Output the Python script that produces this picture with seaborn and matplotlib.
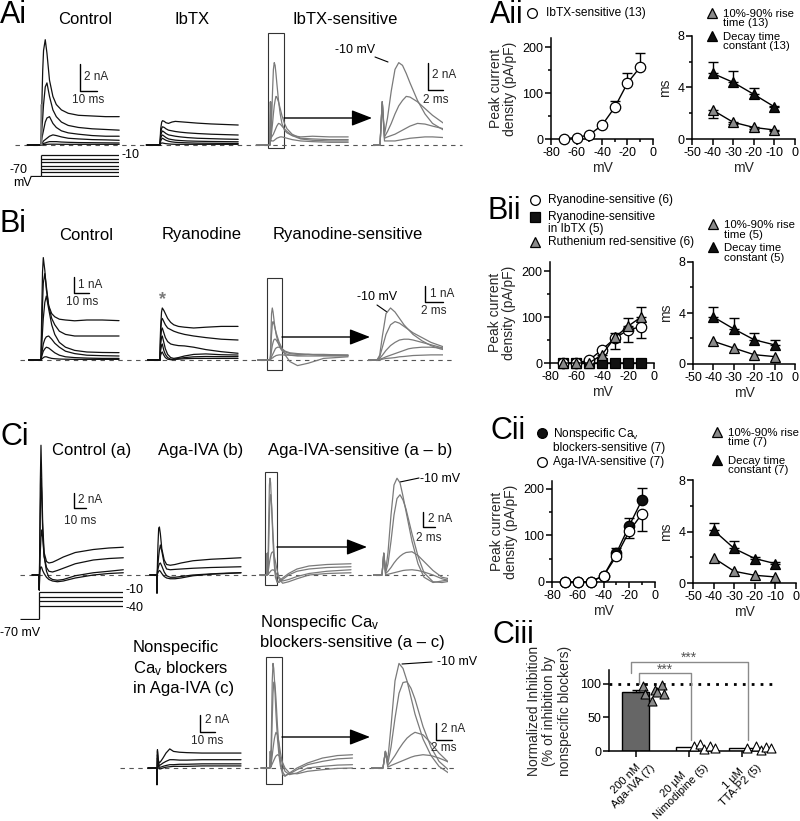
import numpy as np
import matplotlib
matplotlib.use("Agg")
import matplotlib.pyplot as plt
import matplotlib.transforms as mtrans
import seaborn as sns
from matplotlib.patches import Rectangle

sns.set_theme(style="ticks")
plt.rcParams["font.family"] = ["Liberation Sans", "DejaVu Sans"]
plt.rcParams["mathtext.default"] = "regular"
plt.rcParams["axes.unicode_minus"] = False

# ---------------- I-V / kinetics data ----------------
MV = [-70, -60, -50, -40, -30, -20, -10]
MV_KIN = [-40, -30, -20, -10]

IBTX_IV = [1, 3, 9, 30, 69, 122, 157]
IBTX_IV_SEM = [0, 0, 2, 4, 14, 22, 31]
IBTX_RISE = [2.25, 1.3, 0.9, 0.7]
IBTX_RISE_SEM = [0.65, 0.15, 0.1, 0.1]
IBTX_DECAY = [5.1, 4.4, 3.47, 2.5]
IBTX_DECAY_SEM = [0.86, 0.86, 0.5, 0.1]

RYA_IV = [0, 0, 6, 29, 54, 72, 79]
RYA_IV_SEM = [0, 0, 2, 4, 23, 27, 25]
RYA_IBTX_IV = [0, 0, 0, 0, 0, 0, 0]
RR_IV = [0, 0, 0, 18, 56, 80, 100]
RR_IV_SEM = [0, 0, 0, 3, 10, 19, 22]
RYA_RISE = [1.78, 1.25, 0.73, 0.58]
RYA_DECAY = [3.69, 2.75, 1.9, 1.5]
RYA_DECAY_SEM = [0.75, 0.85, 0.5, 0.4]

NS_IV = [0, 0, 1, 13, 62, 121, 177]
NS_IV_SEM = [0, 0, 0, 2, 11, 17, 26]
AGA_IV = [0, 0, 1, 13, 56, 109, 147]
AGA_IV_SEM = [0, 0, 0, 2, 6, 15, 38]
AGA_RISE = [1.95, 0.91, 0.6, 0.47]
AGA_DECAY = [4.1, 2.68, 1.9, 1.5]
AGA_DECAY_SEM = [0.58, 0.57, 0.15, 0.1]

CIII_LABELS = ["200 nM\nAga-IVA (7)", "20 µM\nNimodipine (5)", "1 µM\nTTA-P2 (5)"]
CIII_MEAN = [88, 5.5, 4.5]
CIII_SEM = [3, 0.5, 0.5]
CIII_AGA_PTS = [97, 85, 74, 90, 87, 98, 84]
CIII_NIM_PTS = [7, 10, 3, 8, 4]
CIII_TTA_PTS = [5, 7, 1, 6, 5]

# ---------------- current traces (ms, nA) ----------------
T_A = [-8, 0, 0.4, 1, 1.5, 2.5, 3.5, 5, 7, 9, 12, 16, 22, 30, 38, 46]
A_CTRL = [
    [0, 0, 2.5, 5.5, 7.0, 7.8, 6.8, 4.8, 3.6, 3.0, 2.6, 2.35, 2.2, 2.15, 2.1, 2.1],
    [0, 0, 1.0, 2.0, 3.0, 4.3, 4.6, 3.6, 2.6, 2.1, 1.7, 1.45, 1.3, 1.2, 1.15, 1.1],
    [0, 0, 0.4, 0.8, 1.1, 1.7, 2.0, 2.1, 1.6, 1.3, 1.05, 0.9, 0.8, 0.7, 0.65, 0.65],
    [0, 0, 0.1, 0.2, 0.3, 0.4, 0.5, 0.65, 0.75, 0.7, 0.6, 0.5, 0.45, 0.4, 0.38, 0.35],
    [0, 0, 0.05, 0.1, 0.12, 0.15, 0.2, 0.25, 0.25, 0.25, 0.22, 0.2, 0.18, 0.17, 0.16, 0.15],
    [0, 0, 0, 0.02, 0.03, 0.05, 0.05, 0.06, 0.06, 0.06, 0.05, 0.05, 0.05, 0.05, 0.05, 0.05],
]
A_IBTX = [
    [0, 0, 1.2, 1.7, 1.8, 1.75, 1.65, 1.6, 1.7, 1.75, 1.72, 1.68, 1.62, 1.56, 1.52, 1.48],
    [0, 0, 0.9, 1.25, 1.35, 1.3, 1.2, 1.1, 1.05, 1.0, 0.95, 0.9, 0.85, 0.8, 0.77, 0.74],
    [0, 0, 0.7, 0.95, 1.04, 0.95, 0.85, 0.75, 0.7, 0.65, 0.6, 0.55, 0.5, 0.47, 0.44, 0.42],
    [0, 0, 0.5, 0.7, 0.74, 0.65, 0.55, 0.45, 0.4, 0.36, 0.33, 0.3, 0.28, 0.26, 0.25, 0.24],
    [0, 0, 0.3, 0.45, 0.5, 0.42, 0.35, 0.28, 0.23, 0.2, 0.18, 0.16, 0.14, 0.13, 0.12, 0.12],
    [0, 0, 0.1, 0.15, 0.15, 0.12, 0.1, 0.08, 0.06, 0.05, 0.05, 0.05, 0.05, 0.05, 0.05, 0.05],
]
ART_T = [-0.1, 0.2, 0.5]
A_ART = [0, 3.0, 0]

T_SA = [-8, 0, 0.3, 0.6, 1, 1.5, 2, 2.5, 3, 3.5, 4, 5, 6, 7, 8.5, 10, 13, 18, 25, 35, 46]
A_SENS = [
    [0, 0, 3.2, 0.8, 2.0, 4.0, 5.6, 6.1, 5.9, 5.3, 4.6, 3.3, 2.3, 1.6, 1.1, 0.9, 0.7, 0.6, 0.65, 0.6, 0.6],
    [0, 0, 3.2, 0.6, 1.0, 1.6, 2.3, 2.9, 3.3, 3.6, 3.55, 3.2, 2.7, 2.2, 1.6, 1.2, 0.8, 0.5, 0.45, 0.4, 0.4],
    [0, 0, 3.2, 0.5, 0.6, 0.7, 0.8, 0.95, 1.1, 1.25, 1.4, 1.6, 1.55, 1.4, 1.2, 1.0, 0.7, 0.45, 0.35, 0.3, 0.3],
    [0, 0, 3.2, 0.3, 0.3, 0.3, 0.3, 0.35, 0.4, 0.45, 0.5, 0.55, 0.6, 0.6, 0.55, 0.5, 0.4, 0.3, 0.25, 0.2, 0.2],
]

T_B = [-8, 0, 0.4, 1, 1.5, 2.5, 3.5, 5, 7, 9, 12, 16, 22, 30, 40, 51]
B_CTRL = [
    [0, 0, 2.5, 5.5, 6.4, 5.6, 4.4, 3.4, 2.9, 2.7, 2.55, 2.5, 2.45, 2.5, 2.5, 2.46],
    [0, 0, 1.5, 3.5, 4.8, 5.4, 4.6, 3.4, 2.6, 2.2, 1.8, 1.6, 1.5, 1.5, 1.5, 1.5],
    [0, 0, 0.8, 1.8, 2.6, 3.6, 4.0, 3.2, 2.2, 1.6, 1.1, 0.8, 0.6, 0.5, 0.47, 0.46],
    [0, 0, 0.3, 0.7, 1.0, 1.3, 1.45, 1.5, 1.3, 1.05, 0.8, 0.55, 0.4, 0.3, 0.27, 0.25],
    [0, 0, 0.2, 0.4, 0.55, 0.7, 0.8, 0.75, 0.6, 0.45, 0.3, 0.2, 0.15, 0.12, 0.1, 0.1],
    [0, 0, 0.05, 0.1, 0.15, 0.2, 0.2, 0.15, 0.1, 0.08, 0.06, 0.05, 0.04, 0.04, 0.04, 0.04],
]
B_RYAN = [
    [0, 0, 2.0, 3.0, 3.25, 3.1, 2.9, 2.6, 2.35, 2.2, 2.1, 2.05, 2.0, 2.05, 2.1, 2.1],
    [0, 0, 1.8, 2.5, 2.6, 2.4, 2.2, 2.0, 1.9, 1.8, 1.7, 1.6, 1.5, 1.4, 1.3, 1.25],
    [0, 0, 1.4, 1.9, 2.0, 1.7, 1.4, 1.15, 1.0, 0.95, 0.9, 0.88, 0.8, 0.65, 0.52, 0.42],
    [0, 0, 1.0, 1.4, 1.5, 1.1, 0.7, 0.35, 0.15, 0.1, 0.15, 0.25, 0.35, 0.38, 0.33, 0.31],
    [0, 0, 0.6, 0.9, 1.0, 0.6, 0.35, 0.15, 0.05, 0.05, 0.1, 0.15, 0.2, 0.22, 0.21, 0.21],
    [0, 0, 0.3, 0.45, 0.5, 0.3, 0.15, 0.05, 0.02, 0.03, 0.05, 0.08, 0.1, 0.1, 0.1, 0.1],
]
T_SB = [-8, 0, 0.3, 0.6, 1, 1.5, 2, 2.5, 3, 3.5, 4, 5, 6, 7, 8.5, 10, 13, 18, 25, 35, 51]
B_SENS = [
    [0, 0, 0.3, 1.5, 2.9, 3.25, 3.0, 2.6, 2.2, 1.9, 1.6, 1.2, 0.9, 0.7, 0.5, 0.4, 0.3, 0.3, 0.35, 0.3, 0.3],
    [0, 0, 0.2, 0.8, 1.6, 2.2, 2.4, 2.3, 2.1, 1.9, 1.7, 1.4, 1.1, 0.9, 0.6, 0.3, -0.1, -0.35, -0.2, 0.1, 0.2],
    [0, 0, 0.1, 0.3, 0.6, 0.9, 1.1, 1.25, 1.3, 1.3, 1.25, 1.1, 0.95, 0.8, 0.6, 0.5, 0.4, 0.35, 0.35, 0.35, 0.3],
    [0, 0, 0.05, 0.1, 0.2, 0.3, 0.4, 0.5, 0.6, 0.7, 0.75, 0.8, 0.8, 0.75, 0.65, 0.55, 0.45, 0.4, 0.35, 0.3, 0.3],
    [0, 0, 0, 0.05, 0.1, 0.12, 0.15, 0.2, 0.22, 0.25, 0.28, 0.3, 0.32, 0.32, 0.32, 0.3, 0.3, 0.25, 0.25, 0.25, 0.25],
]

T_C = [-6, -0.2, 0, 0.3, 0.8, 1.4, 2, 2.8, 4, 6, 8, 11, 15, 20, 30, 45, 58, 70]
C_CTRL = [
    [0, 0, -2.0, 3, 12, 17.3, 13, 7, 3, 1.8, 1.6, 1.7, 2.0, 2.4, 3.0, 3.4, 3.6, 3.7],
    [0, 0, -2.0, 2, 8, 12.9, 11, 6, 2.5, 1.0, 0.5, 0.4, 0.6, 0.9, 1.5, 2.0, 2.2, 2.3],
    [0, 0, -2.0, 1, 3, 5, 6, 5, 2.5, 0.5, -0.3, -0.6, -0.7, -0.6, -0.1, 0.3, 0.5, 0.7],
    [0, 0, -2.0, 0.3, 0.8, 1.1, 1.0, 0.6, 0.2, -0.3, -0.6, -0.8, -0.9, -0.8, -0.4, 0, 0.2, 0.3],
]
C_AGA = [
    [0, 0, -2.4, 1, 4, 6.2, 6.4, 5.5, 3.5, 2.0, 1.4, 1.3, 1.4, 1.6, 1.9, 2.1, 2.2, 2.3],
    [0, 0, -2.4, 0.5, 1.5, 2.5, 3.3, 4.0, 3.2, 1.5, 0.8, 0.7, 0.75, 0.8, 0.9, 1.0, 1.05, 1.1],
    [0, 0, -2.4, 0.3, 0.8, 1.2, 1.5, 1.6, 1.2, 0.4, -0.1, -0.3, -0.3, -0.2, 0, 0.15, 0.25, 0.3],
    [0, 0, -2.4, 0.1, 0.3, 0.5, 0.6, 0.5, 0.2, -0.2, -0.4, -0.5, -0.5, -0.4, -0.1, 0.1, 0.2, 0.3],
]
T_SC = [-6, 0, 0.3, 0.6, 1, 1.5, 2, 2.5, 3, 3.5, 4, 5, 6, 7, 8.5, 10, 13, 18, 25, 35, 50, 70]
C_SENS = [
    [0, 0, 2.9, 0.5, 3, 8, 12, 12.9, 12.3, 10.5, 8.5, 4.5, 1.5, -0.3, -1.0, -0.8, -0.4, 0.2, 0.8, 1.2, 1.4, 1.5],
    [0, 0, 2.9, 0.3, 1.5, 4.5, 8, 10.2, 10.7, 10, 8.8, 5.5, 2.5, 0.3, -0.9, -1.0, -0.6, 0, 0.5, 0.8, 1.0, 1.1],
    [0, 0, 2.9, 0.2, 0.5, 1.0, 1.6, 2.1, 2.5, 2.8, 3.0, 3.1, 2.6, 1.8, 0.6, -0.3, -0.8, -0.6, -0.2, 0.2, 0.5, 0.7],
    [0, 0, 2.9, 0, 0.1, 0.2, 0.3, 0.4, 0.5, 0.6, 0.65, 0.7, 0.6, 0.4, 0, -0.5, -1.1, -0.9, -0.5, 0, 0.2, 0.3],
]

T_D = [-6, -0.2, 0, 0.3, 0.8, 1.5, 2.5, 4, 6, 8.5, 11, 15, 20, 30, 45, 56]
D_NS = [
    [0, 0, -2, 2.2, 1.0, 0.6, 0.8, 1.2, 1.8, 2.3, 2.0, 1.9, 1.85, 1.8, 1.8, 1.8],
    [0, 0, -2, 2.0, 0.8, 0.3, 0.4, 0.6, 0.8, 1.0, 1.0, 0.95, 0.95, 1.0, 1.0, 1.0],
    [0, 0, -2, 1.6, 0.5, 0.1, 0.1, 0.2, 0.3, 0.4, 0.4, 0.45, 0.45, 0.5, 0.5, 0.5],
    [0, 0, -2, 1.2, 0.3, -0.1, -0.1, 0, 0.1, 0.15, 0.2, 0.2, 0.2, 0.25, 0.25, 0.25],
]
T_SD = [-6, 0, 0.3, 0.6, 1, 1.5, 2, 2.5, 3, 3.5, 4, 5, 6, 7, 8.5, 10, 13, 18, 25, 35, 45, 55]
D_SENS = [
    [0, 0, 2, 1, 5, 10.5, 12.6, 12, 10.5, 8.5, 6.5, 3.5, 1.5, 0.2, -0.8, -1.0, -0.6, 0, 0.6, 1.2, 1.5, 1.6],
    [0, 0, 2, 0.5, 2.5, 6, 9.0, 10.3, 10.4, 9.6, 8.3, 5, 2.5, 0.8, -0.5, -0.9, -0.7, -0.2, 0.4, 0.8, 1.1, 1.2],
    [0, 0, 2, 0.3, 0.8, 1.5, 2.3, 3.0, 3.6, 4.0, 4.3, 4.0, 3.0, 1.8, 0.4, -0.4, -0.8, -0.6, 0, 0.2, 0.35, 0.4],
    [0, 0, 2, 0.1, 0.3, 0.5, 0.7, 0.9, 1.1, 1.3, 1.45, 1.6, 1.5, 1.2, 0.6, 0, -0.6, -0.7, -0.4, -0.2, -0.05, 0],
]

STEPS_A = [-70, -60, -50, -40, -30, -20, -10]
STEPS_C = [-40, -30, -20, -10]
HOLD = -70

# ---------------- figure helpers ----------------
W, H = 800, 821
fig = plt.figure(figsize=(W / 100, H / 100), dpi=100)
fig.patch.set_facecolor("white")

ov = fig.add_axes([0, 0, 1, 1], zorder=0)
ov.set_xlim(0, W)
ov.set_ylim(H, 0)
ov.axis("off")

BLACK = "#111111"
GRAY = "#7a7a7a"
TRI_GRAY = "#8a8a8a"


def px_axes(x0, y0, x1, y1, z=2):
    return fig.add_axes([x0 / W, 1 - y1 / H, (x1 - x0) / W, (y1 - y0) / H], zorder=z)


def txt(x, y, s, size=9, ha="left", va="center", **kw):
    ov.text(x, y, s, fontsize=size, ha=ha, va=va, color=kw.pop("color", "black"), **kw)


def trace_panel(xo, yb, msp, nap, t, traces, color, t0=None, t1=None, clip=False):
    t0 = t[0] if t0 is None else t0
    t1 = t[-1] if t1 is None else t1
    lo = min(min(tr) for tr in traces) - 0.5
    hi = max(max(tr) for tr in traces) + 0.5
    ax = px_axes(xo + t0 * msp, yb - hi * nap, xo + t1 * msp, yb - lo * nap)
    for tr in traces:
        sns.lineplot(x=t, y=tr, ax=ax, color=color, lw=0.9, estimator=None,
                     sort=False, clip_on=clip)
    ax.set_xlim(t0, t1)
    ax.set_ylim(lo, hi)
    ax.axis("off")
    return ax


def scalebar(ax, t, y, dt, dy, vlab, hlab, vdx, vy, hy, size=8.5):
    ax.plot([t, t, t + dt], [y + dy, y, y], color="black", lw=1, clip_on=False)
    ax.text(t + vdx, vy, vlab, fontsize=size, ha="left", va="center", clip_on=False)
    ax.text(t + dt / 2, hy, hlab, fontsize=size, ha="center", va="center", clip_on=False)


def protocol(xo, msp, t0, t1, y_m10, pxmv, steps):
    ax = px_axes(xo + t0 * msp, y_m10 - 2 * pxmv, xo + t1 * msp, y_m10 + 62 * pxmv)
    ax.set_xlim(t0, t1)
    ax.set_ylim(-72, -8)
    ax.hlines(HOLD, t0, 0, color=BLACK, lw=0.9)
    ax.vlines(0, HOLD, max(steps), color=BLACK, lw=0.9)
    ax.hlines(steps, 0, t1, color=BLACK, lw=0.9)
    ax.axis("off")
    return ax


def dashed(x0, x1, y):
    ov.plot([x0, x1], [y, y], ls=(0, (4, 4)), color="#555555", lw=0.8)


def arrow(x0, x1, y):
    ov.annotate("", xy=(x1, y), xytext=(x0, y),
                arrowprops=dict(arrowstyle="-|>,head_length=0.9,head_width=0.35",
                                color="black", lw=1, mutation_scale=14,
                                shrinkA=0, shrinkB=0))


def box(x, y, w, h):
    ov.add_patch(Rectangle((x, y), w, h, fill=False, ec="#333333", lw=0.8))


# ---------------- Row A: traces ----------------
dashed(15, 462, 145)
ax = trace_panel(41, 145, 1.7, 13.5, T_A, A_CTRL, BLACK)
sns.lineplot(x=ART_T, y=A_ART, ax=ax, color=GRAY, lw=0.9, estimator=None, sort=False)
scalebar(ax, 23, 4.0, 10, 2, "2 nA", "10 ms", 2.2, 5.0, 3.3)
trace_panel(160, 145, 1.7, 13.5, T_A, A_IBTX, BLACK)
trace_panel(270, 145, 1.7, 13.5, T_SA, A_SENS, GRAY)
ax = trace_panel(380, 145, 7.5, 13.5, T_SA, A_SENS, GRAY, t0=-1, t1=8.4, clip=True)
scalebar(ax, 6.4, 4.07, 2, 2, "2 nA", "2 ms", 0.5, 5.2, 3.3)
protocol(41, 1.7, -6.5, 46, 155, 0.35, STEPS_A)
box(268, 33, 16, 115)
arrow(284, 372, 118)
txt(122, 155, "-10", 9)
txt(10, 170, "-70", 9)
txt(13, 183, "mV", 9)
txt(335, 50, "-10 mV", 9)
ov.plot([375, 388], [57, 62], color="black", lw=0.8)

# ---------------- Row B: traces ----------------
dashed(20, 455, 360)
ax = trace_panel(41, 360, 1.53, 16, T_B, B_CTRL, BLACK)
scalebar(ax, 21.6, 4.19, 10, 1, "1 nA", "10 ms", 2.6, 4.69, 3.6)
ax = trace_panel(160, 360, 1.53, 16, T_B, B_RYAN, BLACK)
ax.text(1.8, 3.75, "*", fontsize=13, ha="center", va="center", color=GRAY, fontweight="bold")
trace_panel(270, 360, 1.53, 16, T_SB, B_SENS, GRAY)
ax = trace_panel(377, 360, 9, 16, T_SB, B_SENS, GRAY, t0=-1, t1=7.3, clip=True)
scalebar(ax, 5.33, 3.6, 2, 1, "1 nA", "2 ms", 0.55, 4.15, 3.05)
box(267, 278, 15, 92)
arrow(282, 370, 337)
txt(357, 297, "-10 mV", 9)
ov.plot([377, 387], [305, 312], color="black", lw=0.8)

# ---------------- Row C: traces ----------------
dashed(20, 448, 575)
ax = trace_panel(39.3, 575, 1.2, 7.5, T_C, C_CTRL, BLACK)
scalebar(ax, 28.9, 8.93, 10, 2, "2 nA", "10 ms", 3.3, 10.0, 7.2)
trace_panel(157, 575, 1.2, 7.5, T_C, C_AGA, BLACK)
trace_panel(267, 575, 1.2, 7.5, T_SC, C_SENS, GRAY)
ax = trace_panel(382, 575, 6, 7.5, T_SC, C_SENS, GRAY, t0=-1.5, t1=11, clip=True)
scalebar(ax, 6.83, 6.4, 2, 2, "2 nA", "2 ms", 0.8, 7.47, 4.93)
protocol(39.3, 1.2, -16, 70, 592, 0.45, STEPS_C)
box(265, 472, 12, 113)
arrow(277, 367, 547)
txt(126, 590, "-10", 9)
txt(126, 608, "-40", 9)
txt(0, 633, "-70 mV", 9)
txt(420, 479, "-10 mV", 9)
ov.plot([400, 419], [482, 478], color="black", lw=0.8)

# ---------------- Row D: traces ----------------
dashed(120, 457, 768)
ax = trace_panel(157, 768, 1.5, 8.3, T_D, D_NS, BLACK)
scalebar(ax, 28.7, 4.34, 10, 2, "2 nA", "10 ms", 3.3, 5.78, 3.25)
trace_panel(270, 768, 1.5, 8.3, T_SD, D_SENS, GRAY)
ax = trace_panel(383, 768, 8, 8.3, T_SD, D_SENS, GRAY, t0=-1.5, t1=8.1, clip=True)
scalebar(ax, 6.6, 3.37, 2, 2, "2 nA", "2 ms", 0.6, 4.7, 2.41)
box(266, 657, 16, 127)
arrow(282, 370, 737)
txt(437, 662, "-10 mV", 9)
ov.plot([402, 432], [664, 662], color="black", lw=0.8)

# ---------------- titles and panel letters ----------------
txt(0, 0, "Ai", 22, va="top")
txt(85, 20, "Control", 12, ha="center")
txt(192, 20, "IbTX", 12, ha="center")
txt(292, 20, "IbTX-sensitive", 12)
txt(0, 224, "Bi", 22)
txt(86, 235, "Control", 12, ha="center")
txt(202, 235, "Ryanodine", 12, ha="center")
txt(273, 235, "Ryanodine-sensitive", 12)
txt(0, 437, "Ci", 22)
txt(52, 450, "Control (a)", 12)
txt(158, 450, "Aga-IVA (b)", 12)
txt(268, 450, "Aga-IVA-sensitive (a \u2013 b)", 12)
txt(260, 632, "Nonspecific Ca$_v$\nblockers-sensitive (a \u2013 c)", 12, linespacing=1.25)
txt(133, 668, "Nonspecific\nCa$_v$ blockers\nin Aga-IVA (c)", 12, linespacing=1.3)
txt(490, 0, "Aii", 22, va="top")
txt(488, 211, "Bii", 22)
txt(490, 431, "Cii", 22)
txt(493, 635, "Ciii", 22)


# ---------------- I-V and kinetics panels ----------------
def legend_marker(x, y, marker, face, ms=7):
    ov.plot([x], [y], marker=marker, ms=ms, mfc=face, mec="black", mew=0.9, ls="none")


def iv_line(ax, x, y, marker, face, ms=7.5):
    sns.lineplot(x=x, y=y, ax=ax, color="black", lw=1, marker=marker, markersize=ms,
                 markerfacecolor=face, markeredgecolor="black", markeredgewidth=0.9,
                 clip_on=False, zorder=3, estimator=None)


def err(ax, x, y, sem, up=True):
    zero = [0] * len(sem)
    yerr = [zero, sem] if up else [sem, zero]
    ax.errorbar(x, y, yerr=yerr, fmt="none", ecolor="black", elinewidth=1,
                capsize=3.5, capthick=1, zorder=2)


def style_iv(ax, left_panel):
    if left_panel:
        ax.set_xlim(-80, 0)
        ax.set_xticks([-80, -60, -40, -20, 0])
        ax.set_xticks([-70, -50, -30, -10], minor=True)
        ax.set_yticks([0, 100, 200])
        ax.set_yticks([50, 150], minor=True)
        ax.set_ylabel("Peak current\ndensity (pA/pF)", fontsize=10, labelpad=4,
                      linespacing=1.0)
    else:
        ax.set_xlim(-50, 0)
        ax.set_xticks([-50, -40, -30, -20, -10, 0])
        ax.set_yticks([0, 4, 8])
        ax.set_yticks([2, 6], minor=True)
        ax.set_ylabel("ms", fontsize=10, labelpad=4)
    ax.set_xlabel("mV", fontsize=10, labelpad=2)
    sns.despine(ax=ax)
    ax.set_facecolor("none")
    ax.grid(False)
    for s in ("left", "bottom"):
        ax.spines[s].set_linewidth(1.1)
        ax.spines[s].set_color("black")
    ax.tick_params(which="major", direction="out", length=4, width=1.1, labelsize=9,
                   pad=1.5, colors="black")
    ax.tick_params(which="minor", direction="out", length=2.5, width=1.1, colors="black")


LEG = 8.6
LEG_R = 8.2

# Aii
ax = px_axes(551, 38, 653, 139, z=3)
err(ax, MV, IBTX_IV, IBTX_IV_SEM)
iv_line(ax, MV, IBTX_IV, "o", "white")
style_iv(ax, True)
ax.set_ylim(0, 220)

ax = px_axes(692, 36, 795, 139, z=3)
err(ax, MV_KIN, IBTX_RISE, IBTX_RISE_SEM, up=False)
err(ax, MV_KIN, IBTX_DECAY, IBTX_DECAY_SEM)
iv_line(ax, MV_KIN, IBTX_RISE, "^", TRI_GRAY)
iv_line(ax, MV_KIN, IBTX_DECAY, "^", BLACK)
style_iv(ax, False)
ax.set_ylim(0, 8)

legend_marker(532, 13, "o", "white")
txt(546, 13, "IbTX-sensitive (13)", LEG)
legend_marker(712, 13, "^", TRI_GRAY)
txt(723, 18.5, "10%-90% rise\ntime (13)", LEG_R, linespacing=0.95)
legend_marker(712, 36, "^", BLACK)
txt(723, 41.5, "Decay time\nconstant (13)", LEG_R, linespacing=0.95)

# Bii
ax = px_axes(550, 262, 654, 363, z=3)
err(ax, MV, RYA_IV, RYA_IV_SEM, up=False)
err(ax, MV, RR_IV, RR_IV_SEM)
iv_line(ax, MV, RYA_IBTX_IV, "s", BLACK, ms=7)
iv_line(ax, MV, RYA_IV, "o", "white")
iv_line(ax, MV, RR_IV, "^", TRI_GRAY)
style_iv(ax, True)
ax.set_ylim(0, 220)

ax = px_axes(693, 262, 795, 364, z=3)
err(ax, MV_KIN, RYA_DECAY, RYA_DECAY_SEM)
iv_line(ax, MV_KIN, RYA_RISE, "^", TRI_GRAY)
iv_line(ax, MV_KIN, RYA_DECAY, "^", BLACK)
style_iv(ax, False)
ax.set_ylim(0, 8)

legend_marker(535, 200, "o", "white")
txt(548, 200, "Ryanodine-sensitive (6)", LEG)
legend_marker(535, 217, "s", BLACK)
txt(548, 223, "Ryanodine-sensitive\nin IbTX (5)", LEG, linespacing=0.95)
legend_marker(535, 242, "^", TRI_GRAY)
txt(548, 242, "Ruthenium red-sensitive (6)", LEG)
legend_marker(713, 224, "^", TRI_GRAY)
txt(724, 230, "10%-90% rise\ntime (5)", LEG_R, linespacing=0.95)
legend_marker(713, 247, "^", BLACK)
txt(724, 253, "Decay time\nconstant (5)", LEG_R, linespacing=0.95)

# Cii
ax = px_axes(552, 481, 655, 582, z=3)
err(ax, MV, NS_IV, NS_IV_SEM)
err(ax, MV, AGA_IV, AGA_IV_SEM, up=False)
iv_line(ax, MV, NS_IV, "o", BLACK)
iv_line(ax, MV, AGA_IV, "o", "white")
style_iv(ax, True)
ax.set_ylim(0, 217)

ax = px_axes(693, 480, 796, 583, z=3)
err(ax, MV_KIN, AGA_DECAY, AGA_DECAY_SEM)
iv_line(ax, MV_KIN, AGA_RISE, "^", TRI_GRAY)
iv_line(ax, MV_KIN, AGA_DECAY, "^", BLACK)
style_iv(ax, False)
ax.set_ylim(0, 8)

legend_marker(542, 433, "o", BLACK)
txt(553, 440, "Nonspecific Ca$_v$\nblockers-sensitive (7)", LEG, linespacing=1.0)
legend_marker(542, 462, "o", "white")
txt(553, 462, "Aga-IVA-sensitive (7)", LEG)
legend_marker(717, 432, "^", TRI_GRAY)
txt(728, 437.5, "10%-90% rise\ntime (7)", LEG_R, linespacing=0.95)
legend_marker(717, 460, "^", BLACK)
txt(728, 465.5, "Decay time\nconstant (7)", LEG_R, linespacing=0.95)

# ---------------- Ciii bar chart ----------------
ax = px_axes(609, 670, 773, 751, z=3)
sns.barplot(x=CIII_LABELS, y=CIII_MEAN, hue=CIII_LABELS, legend=False,
            palette=["#666666", "white", "white"], width=0.5, edgecolor="black",
            linewidth=1, errorbar=None, ax=ax)
ax.errorbar([0], [CIII_MEAN[0]], yerr=[[0], [CIII_SEM[0]]], fmt="none", ecolor="black",
            elinewidth=1, capsize=3, capthick=1, zorder=2)
aga_off = [0.13, 0.18, 0.31, 0.37, 0.41, 0.5, 0.53]
nim_off = [0.1, 0.2, 0.28, 0.4, 0.5]
tta_off = [0.1, 0.26, 0.36, 0.45, 0.54]
ax.scatter([0 + o for o in aga_off], CIII_AGA_PTS, marker="^", s=42, c=TRI_GRAY,
           edgecolors="black", linewidths=0.8, zorder=4, clip_on=False)
ax.scatter([1 + o for o in nim_off], CIII_NIM_PTS, marker="^", s=42, c="white",
           edgecolors="black", linewidths=0.8, zorder=4, clip_on=False)
ax.scatter([2 + o for o in tta_off], CIII_TTA_PTS, marker="^", s=42, c="white",
           edgecolors="black", linewidths=0.8, zorder=4, clip_on=False)
ax.axhline(100, ls=(0, (1, 2.2)), color="black", lw=2)
ax.set_xlim(-0.5, 2.58)
ax.set_ylim(0, 120)
ax.set_yticks([0, 50, 100])
ax.set_ylabel("Normalized Inhibition\n(% of inhibition by\nnonspecific blockers)",
              fontsize=10, labelpad=6, linespacing=1.15)
ax.set_xlabel("")
sns.despine(ax=ax)
ax.set_facecolor("none")
for s in ("left", "bottom"):
    ax.spines[s].set_linewidth(1.1)
    ax.spines[s].set_color("black")
ax.tick_params(direction="out", length=4, width=1.1, labelsize=9, pad=1.5, colors="black")
# tick labels set last so that tick_params does not reset them
ax.set_xticks([0, 1, 2])
ax.set_xticklabels(CIII_LABELS, rotation=45, ha="right", va="top", rotation_mode="anchor",
                   fontsize=8, linespacing=1.0, multialignment="center")
shift = mtrans.ScaledTranslation(7 / 100, 3 / 100, fig.dpi_scale_trans)
for lab in ax.get_xticklabels():
    lab.set_transform(lab.get_transform() + shift)
# significance brackets
bc = "#8a8a8a"
ax.plot([-0.08, -0.08, 2.11, 2.11], [115, 132, 132, 16], color=bc, lw=1, clip_on=False)
ax.plot([0.07, 0.07, 1.04, 1.04], [100, 115, 115, 16], color=bc, lw=1, clip_on=False)
ax.text(1.0, 138, "***", ha="center", va="center", fontsize=10, color="#555555")
ax.text(0.55, 120, "***", ha="center", va="center", fontsize=10, color="#555555")

fig.savefig("out.png", dpi=100, facecolor="white")
